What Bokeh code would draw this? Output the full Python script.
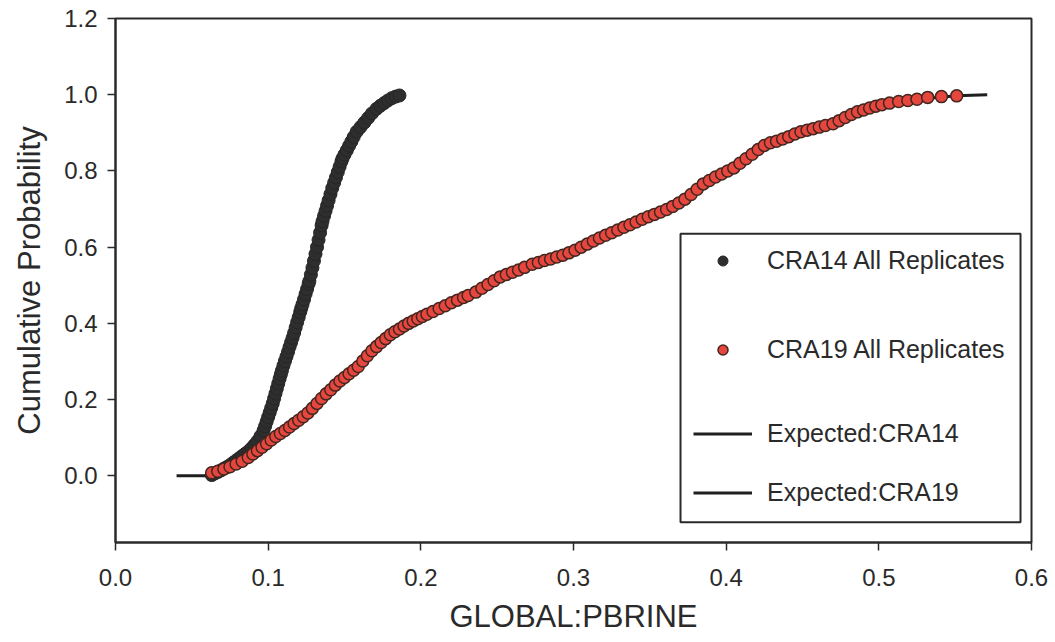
from bokeh.plotting import figure
from bokeh.models import (Range1d, FixedTicker, PrintfTickFormatter, Legend,
                          LegendItem, BoxAnnotation)
from bokeh.embed import file_html
from bokeh.resources import INLINE

# ---- data -------------------------------------------------------------
x_ticks = [0.0, 0.1, 0.2, 0.3, 0.4, 0.5, 0.6]
y_ticks = [0.0, 0.2, 0.4, 0.6, 0.8, 1.0, 1.2]

# CRA14, all replicates (empirical CDF of GLOBAL:PBRINE)
cra14_x = [0.063, 0.065, 0.067, 0.069, 0.071, 0.073, 0.075, 0.077, 0.079, 0.081,
           0.083, 0.085, 0.087, 0.089, 0.091, 0.093, 0.095, 0.097, 0.098, 0.099,
           0.100, 0.101, 0.102, 0.103, 0.1039, 0.1048, 0.1057, 0.1066, 0.1075, 0.1083,
           0.109, 0.110, 0.111, 0.112, 0.113, 0.114, 0.115, 0.116, 0.117, 0.118,
           0.119, 0.120, 0.121, 0.1217, 0.1225, 0.1235, 0.1245, 0.1255, 0.1265, 0.127,
           0.128, 0.129, 0.130, 0.131, 0.132, 0.133, 0.134, 0.135, 0.1356, 0.1366,
           0.1376, 0.1386, 0.1396, 0.1408, 0.142, 0.1432, 0.1444, 0.1456, 0.1468, 0.148,
           0.1487, 0.150, 0.1515, 0.153, 0.1545, 0.156, 0.158, 0.1605, 0.163, 0.1655,
           0.168, 0.171, 0.1735, 0.176, 0.1785, 0.181, 0.1835, 0.186]
cra14_p = [0.002, 0.006, 0.010, 0.014, 0.019, 0.023, 0.028, 0.034, 0.040, 0.046,
           0.052, 0.058, 0.064, 0.072, 0.081, 0.091, 0.104, 0.119, 0.130, 0.142,
           0.154, 0.166, 0.178, 0.190, 0.203, 0.216, 0.229, 0.242, 0.255, 0.266,
           0.276, 0.289, 0.301, 0.313, 0.325, 0.338, 0.350, 0.362, 0.375, 0.389,
           0.403, 0.416, 0.430, 0.440, 0.450, 0.463, 0.477, 0.490, 0.504, 0.511,
           0.528, 0.546, 0.564, 0.582, 0.600, 0.619, 0.638, 0.657, 0.668, 0.682,
           0.695, 0.709, 0.723, 0.739, 0.755, 0.769, 0.783, 0.797, 0.811, 0.825,
           0.833, 0.843, 0.854, 0.866, 0.877, 0.889, 0.903, 0.915, 0.927, 0.939,
           0.951, 0.963, 0.971, 0.978, 0.985, 0.991, 0.995, 0.998]

# CRA19, all replicates
cra19_x = [0.063, 0.067, 0.071, 0.075, 0.079, 0.083, 0.087, 0.090, 0.093, 0.096,
           0.099, 0.102, 0.105, 0.108, 0.111, 0.114, 0.117, 0.120, 0.123, 0.126,
           0.129, 0.132, 0.135, 0.138, 0.141, 0.144, 0.147, 0.150, 0.153, 0.156,
           0.159, 0.162, 0.165, 0.168, 0.171, 0.174, 0.177, 0.180, 0.183, 0.186,
           0.189, 0.192, 0.195, 0.198, 0.201, 0.204, 0.208, 0.212, 0.216, 0.220,
           0.224, 0.228, 0.231, 0.236, 0.240, 0.244, 0.248, 0.252, 0.256, 0.260,
           0.264, 0.268, 0.273, 0.277, 0.281, 0.285, 0.289, 0.293, 0.297, 0.301,
           0.305, 0.309, 0.313, 0.317, 0.321, 0.325, 0.329, 0.333, 0.337, 0.341,
           0.345, 0.349, 0.353, 0.357, 0.361, 0.365, 0.369, 0.373, 0.377, 0.381,
           0.385, 0.389, 0.393, 0.397, 0.401, 0.405, 0.409, 0.413, 0.417, 0.421,
           0.425, 0.429, 0.433, 0.437, 0.441, 0.445, 0.449, 0.453, 0.457, 0.461,
           0.465, 0.470, 0.474, 0.478, 0.482, 0.486, 0.490, 0.494, 0.498, 0.502,
           0.507, 0.513, 0.519, 0.525, 0.532, 0.541, 0.551]
cra19_p = [0.008, 0.012, 0.018, 0.024, 0.031, 0.038, 0.048, 0.057, 0.066, 0.075,
           0.084, 0.094, 0.103, 0.111, 0.119, 0.128, 0.137, 0.146, 0.155, 0.165,
           0.177, 0.190, 0.203, 0.215, 0.226, 0.238, 0.249, 0.258, 0.268, 0.277,
           0.287, 0.301, 0.315, 0.328, 0.339, 0.350, 0.360, 0.370, 0.378, 0.385,
           0.393, 0.400, 0.406, 0.412, 0.418, 0.424, 0.431, 0.439, 0.446, 0.454,
           0.461, 0.468, 0.473, 0.482, 0.492, 0.502, 0.512, 0.522, 0.528, 0.534,
           0.540, 0.547, 0.555, 0.560, 0.565, 0.569, 0.574, 0.579, 0.585, 0.592,
           0.600, 0.608, 0.616, 0.624, 0.631, 0.638, 0.645, 0.652, 0.659, 0.666,
           0.673, 0.680, 0.686, 0.692, 0.699, 0.707, 0.716, 0.726, 0.738, 0.752,
           0.766, 0.775, 0.784, 0.792, 0.800, 0.808, 0.820, 0.832, 0.844, 0.856,
           0.867, 0.874, 0.878, 0.884, 0.890, 0.897, 0.903, 0.907, 0.911, 0.915,
           0.919, 0.924, 0.932, 0.940, 0.948, 0.955, 0.960, 0.965, 0.970, 0.974,
           0.978, 0.982, 0.985, 0.988, 0.993, 0.995, 0.997]

# Expected CDFs
exp14_x = [0.040, 0.060, 0.066, 0.075, 0.082, 0.088, 0.094, 0.101, 0.106, 0.1125,
           0.119, 0.126, 0.132, 0.138, 0.1455, 0.150, 0.157, 0.163, 0.170, 0.177, 0.186]
exp14_p = [0.0, 0.0, 0.010, 0.030, 0.050, 0.070, 0.100, 0.160, 0.230, 0.320,
           0.400, 0.500, 0.600, 0.700, 0.800, 0.850, 0.900, 0.930, 0.960, 0.980, 1.0]
exp19_x = [0.060, 0.063, 0.083, 0.103, 0.125, 0.147, 0.168, 0.192, 0.204, 0.231,
           0.252, 0.273, 0.297, 0.317, 0.341, 0.361, 0.385, 0.405, 0.425, 0.449,
           0.470, 0.486, 0.502, 0.525, 0.551, 0.571]
exp19_p = [0.0, 0.008, 0.038, 0.098, 0.163, 0.250, 0.328, 0.400, 0.424, 0.473,
           0.522, 0.555, 0.585, 0.624, 0.666, 0.699, 0.766, 0.808, 0.867, 0.903,
           0.924, 0.955, 0.974, 0.988, 0.997, 1.0]

FONT = "Liberation Sans"
INK = "#2a2a2a"

# ---- figure -----------------------------------------------------------
p = figure(width=1055, height=642, output_backend="svg", toolbar_location=None,
           x_range=Range1d(0.0, 0.6), y_range=Range1d(-0.175, 1.2),
           min_border_left=115, min_border_right=24,
           min_border_top=18, min_border_bottom=100)
p.background_fill_color = "white"
p.border_fill_color = "white"
p.grid.visible = False
p.outline_line_color = INK
p.outline_line_width = 2
p.outline_line_alpha = 1.0

p.xaxis.ticker = FixedTicker(ticks=x_ticks)
p.yaxis.ticker = FixedTicker(ticks=y_ticks)
p.xaxis.axis_label = "GLOBAL:PBRINE"
p.yaxis.axis_label = "Cumulative Probability"
for ax in (p.xaxis[0], p.yaxis[0]):
    ax.formatter = PrintfTickFormatter(format="%.1f")
    ax.major_tick_in = 0
    ax.major_tick_out = 8
    ax.minor_tick_in = 0
    ax.minor_tick_out = 0
    ax.axis_line_color = INK
    ax.axis_line_width = 2
    ax.major_tick_line_color = INK
    ax.major_tick_line_width = 1.5
    ax.major_label_text_font = FONT
    ax.major_label_text_font_size = "24px"
    ax.major_label_text_color = INK
    ax.axis_label_text_font = FONT
    ax.axis_label_text_font_style = "normal"
    ax.axis_label_text_color = INK
p.xaxis.major_label_standoff = 18
p.yaxis.major_label_standoff = 10
p.xaxis.axis_label_text_font_size = "31px"
p.yaxis.axis_label_text_font_size = "31px"
p.xaxis.axis_label_standoff = 10
p.yaxis.axis_label_standoff = 14

# expected curves under the sample points
r_e14 = p.line(exp14_x, exp14_p, line_color="#1f1f1f", line_width=3)
r_e19 = p.line(exp19_x, exp19_p, line_color="#1f1f1f", line_width=3)
r_14 = p.scatter(cra14_x, cra14_p, size=13, fill_color="#2e2e2e",
                 line_color="#262626", line_width=1)
r_19 = p.scatter(cra19_x, cra19_p, size=12, fill_color="#e5473f",
                 line_color="#43261f", line_width=1.5)

# legend panel
frame = BoxAnnotation(left=0.3701, right=0.5928, top=0.6353, bottom=-0.1218,
                      fill_color="white", fill_alpha=1.0,
                      line_color=INK, line_width=2, line_alpha=1.0)
p.add_layout(frame)

def make_legend(items, loc, spacing):
    return Legend(items=items, location=loc, spacing=spacing, padding=0, margin=0,
                  glyph_width=59, glyph_height=25, label_height=25,
                  label_standoff=15, label_text_font=FONT,
                  label_text_font_size="25px", label_text_color=INK,
                  border_line_alpha=0, background_fill_alpha=0)

leg_pts = make_legend([LegendItem(label="CRA14 All Replicates", renderers=[r_14]),
                       LegendItem(label="CRA19 All Replicates", renderers=[r_19])],
                      (578, 178), 60)
leg_lines = make_legend([LegendItem(label="Expected:CRA14", renderers=[r_e14]),
                         LegendItem(label="Expected:CRA19", renderers=[r_e19])],
                        (578, 35), 30)
p.add_layout(leg_pts)
p.add_layout(leg_lines)

open("out.html", "w").write(file_html(p, INLINE))
